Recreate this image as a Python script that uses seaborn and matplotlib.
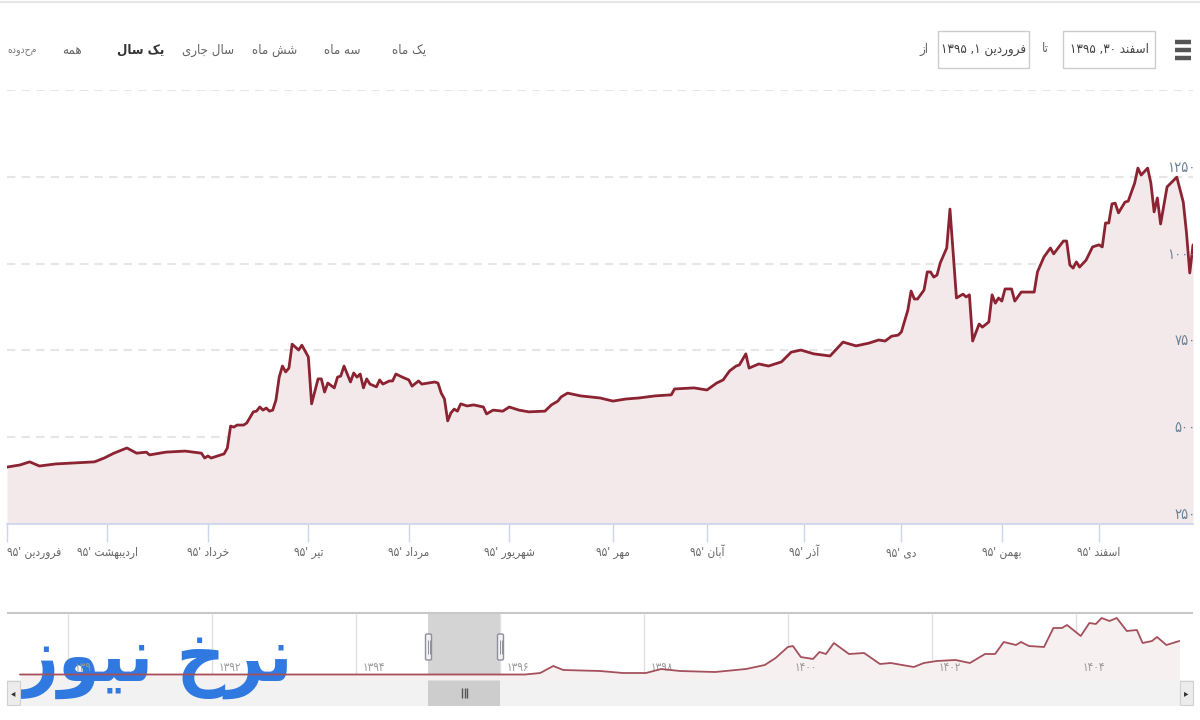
import re
import matplotlib
matplotlib.use('Agg')
import matplotlib.pyplot as plt
from matplotlib.patches import FancyBboxPatch, Rectangle
import pandas as pd
import seaborn as sns

# matplotlib does not shape arabic script, so map letters to presentation forms
FORMS = {
    'ا': '\uFE8D\uFE8E', 'آ': '\uFE81\uFE82', 'د': '\uFEA9\uFEAA', 'ذ': '\uFEAB\uFEAC',
    'ر': '\uFEAD\uFEAE', 'ز': '\uFEAF\uFEB0', 'و': '\uFEED\uFEEE',
    'ب': '\uFE8F\uFE90\uFE91\uFE92', 'پ': '\uFB56\uFB57\uFB58\uFB59',
    'ت': '\uFE95\uFE96\uFE97\uFE98', 'ج': '\uFE9D\uFE9E\uFE9F\uFEA0',
    'خ': '\uFEA5\uFEA6\uFEA7\uFEA8', 'س': '\uFEB1\uFEB2\uFEB3\uFEB4',
    'ش': '\uFEB5\uFEB6\uFEB7\uFEB8', 'ف': '\uFED1\uFED2\uFED3\uFED4',
    'ک': '\uFB8E\uFB8F\uFB90\uFB91', 'ل': '\uFEDD\uFEDE\uFEDF\uFEE0',
    'م': '\uFEE1\uFEE2\uFEE3\uFEE4', 'ن': '\uFEE5\uFEE6\uFEE7\uFEE8',
    'ه': '\uFEE9\uFEEA\uFEEB\uFEEC', 'ی': '\uFBFC\uFBFD\uFBFE\uFBFF',
}


def fa(text):
    shaped = []
    for i, c in enumerate(text):
        if c not in FORMS:
            shaped.append(c)
            continue
        forms = FORMS[c]
        prev_c = text[i - 1] if i > 0 else ''
        next_c = text[i + 1] if i + 1 < len(text) else ''
        joins_prev = prev_c in FORMS and len(FORMS[prev_c]) == 4
        joins_next = next_c in FORMS and len(forms) == 4
        if joins_prev and joins_next:
            shaped.append(forms[3])
        elif joins_prev:
            shaped.append(forms[1])
        elif joins_next:
            shaped.append(forms[2])
        else:
            shaped.append(forms[0])
    tokens = re.findall(r'[۰-۹]+|.', ''.join(shaped))
    return ''.join(reversed(tokens))


# main chart, days since the start of 1395
days = [0, 4, 7, 10, 15, 21, 27, 30, 33, 37, 40, 43, 44, 49, 55, 60, 61, 62, 63, 65, 67, 68, 69, 70, 71, 73, 74,
        76, 77, 78, 79, 80, 81, 82, 83, 84, 85, 86, 87, 88, 90, 91, 93, 94, 96, 97, 98, 99, 101, 102, 103, 104,
        106, 107, 108, 109, 110, 111, 112, 114, 115, 116, 118, 119, 120, 122, 124, 125, 127, 128, 132, 133, 134,
        135, 136, 137, 138, 139, 140, 142, 144, 147, 148, 150, 153, 155, 158, 161, 166, 168, 170, 171, 173, 177,
        183, 187, 191, 195, 200, 205, 206, 212, 216, 219, 221, 223, 225, 226, 228, 229, 232, 235, 239, 242, 245,
        249, 254, 258, 262, 266, 269, 271, 273, 275, 276, 278, 279, 280, 281, 283, 284, 285, 286, 287, 288, 290,
        291, 293, 295, 296, 297, 298, 300, 301, 303, 304, 305, 306, 307, 308, 310, 311, 313, 317, 318, 320, 322,
        323, 326, 327, 328, 329, 330, 331, 333, 335, 337, 338, 339, 340, 341, 342, 343, 345, 346, 348, 349, 350,
        352, 353, 354, 355, 356, 358, 361, 363, 364, 365, 366]
prices = [414, 420, 429, 417, 423, 426, 429, 440, 454, 469, 454, 457, 449, 457, 460, 454, 440, 446, 440, 446, 452,
          469, 532, 529, 535, 535, 541, 573, 575, 587, 578, 584, 575, 578, 607, 673, 705, 688, 699, 768, 751, 765,
          731, 596, 668, 668, 630, 656, 642, 673, 676, 705, 659, 685, 673, 682, 642, 668, 653, 645, 665, 653, 662,
          662, 682, 673, 665, 647, 662, 653, 659, 656, 627, 610, 547, 570, 581, 575, 596, 590, 593, 587, 567, 578,
          575, 587, 578, 573, 575, 593, 604, 616, 627, 619, 613, 604, 610, 613, 619, 622, 639, 642, 636, 656, 665,
          691, 705, 708, 740, 699, 711, 705, 717, 745, 751, 740, 734, 774, 763, 771, 780, 777, 791, 794, 803, 866,
          921, 898, 898, 924, 976, 976, 961, 967, 1002, 1045, 1157, 901, 912, 904, 910, 777, 826, 817, 832, 910,
          886, 901, 892, 927, 927, 892, 918, 918, 976, 1019, 1045, 1028, 1065, 1065, 996, 987, 1005, 990, 1010,
          1048, 1054, 1048, 1117, 1117, 1172, 1174, 1146, 1177, 1180, 1232, 1275, 1255, 1275, 1232, 1149, 1189,
          1114, 1221, 1249, 1177, 1088, 973, 1054]
month_days = [0, 31, 62, 93, 124, 155, 187, 216, 246, 276, 307, 337]
month_names = ['فروردین', 'اردیبهشت', 'خرداد', 'تیر', 'مرداد', 'شهریور', 'مهر', 'آبان', 'آذر', 'دی', 'بهمن', 'اسفند']
price_ticks = [250, 500, 750, 1000, 1250, 1500]
price_labels = ['۲۵۰', '۵۰۰', '۷۵۰', '۱۰۰۰', '۱۲۵۰']

# navigator, whole history by year
nav_years = [1389.33, 1396.35, 1396.56, 1396.74, 1396.88, 1397.39, 1397.71, 1398.03, 1398.24, 1398.5, 1398.99,
             1399.42, 1399.68, 1399.83, 1400.0, 1400.07, 1400.18, 1400.35, 1400.44, 1400.53, 1400.64, 1400.85,
             1401.06, 1401.28, 1401.43, 1401.75, 1401.89, 1402.07, 1402.33, 1402.53, 1402.74, 1402.88, 1403.0,
             1403.17, 1403.24, 1403.35, 1403.56, 1403.69, 1403.81, 1403.88, 1404.07, 1404.19, 1404.28, 1404.36,
             1404.47, 1404.57, 1404.71, 1404.85, 1404.93, 1405.06, 1405.13, 1405.26, 1405.44]
nav_values = [770, 770, 980, 1960, 1400, 1260, 980, 980, 1540, 1260, 1120, 1540, 2100, 3080, 4620, 4760, 3220,
              2940, 3920, 3640, 5180, 3640, 3780, 2240, 2380, 1820, 2380, 2660, 2800, 2380, 3640, 3640, 5320,
              4900, 5320, 4760, 4620, 7280, 7280, 7700, 6160, 7980, 7840, 8680, 8260, 8680, 6860, 7000, 5180,
              5460, 6020, 4900, 5460]
nav_ticks = [1390, 1392, 1394, 1396, 1398, 1400, 1402, 1404]
nav_labels = ['۱۳۹۰', '۱۳۹۲', '۱۳۹۴', '۱۳۹۶', '۱۳۹۸', '۱۴۰۰', '۱۴۰۲', '۱۴۰۴']
range_start, range_end = 1395, 1396

buttons = ['یک ماه', 'سه ماه', 'شش ماه', 'سال جاری', 'یک سال', 'همه']
button_x = [409, 342, 275, 208, 141, 72]

LINE = '#8b2332'
AREA = '#f3e9ea'
GREY = '#666666'

sns.set_theme(style='white')
plt.rcParams['font.family'] = ['DejaVu Sans']
plt.rcParams['font.stretch'] = 'condensed'

W, H = 1200, 720
fig = plt.figure(figsize=(W / 100, H / 100), dpi=100, facecolor='white')


def fx(x):
    return x / W


def fy(y):
    return 1 - y / H


# main chart
ax = fig.add_axes([fx(7), fy(524), 1186 / W, 434 / H])
df = pd.DataFrame({'day': days, 'price': prices})
ax.fill_between(df['day'], df['price'], 250, color=AREA, lw=0, zorder=1)
sns.lineplot(data=df, x='day', y='price', color=LINE, lw=2, ax=ax, zorder=3)
ax.set_xlim(0, 366)
ax.set_ylim(250, 1500)
ax.set_xlabel('')
ax.set_ylabel('')
for s in ['top', 'left', 'right']:
    ax.spines[s].set_visible(False)
ax.spines['bottom'].set_color('#ccd6eb')
ax.set_yticks(price_ticks)
ax.set_yticklabels([])
ax.tick_params(axis='y', length=0)
ax.grid(True, axis='y', color='#e6e6e6', lw=1.5, ls=(0, (4, 3)), zorder=2)
ax.grid(False, axis='x')
ax.set_xticks(month_days)
ax.set_xticklabels([fa(m + " '۹۵") for m in month_names], fontsize=8.5, color=GREY, va='baseline')
ax.tick_params(axis='x', length=13, width=1, color='#ccd6eb', pad=10, bottom=True)
ax.get_xticklabels()[0].set_ha('left')
for v, lab in zip(price_ticks, price_labels):
    ax.annotate(fa(lab), (1, v), xycoords=ax.get_yaxis_transform(), xytext=(2, 1.5), textcoords='offset points',
                ha='right', va='bottom', fontsize=10.5, color='#6b8296', zorder=5, annotation_clip=False)

# navigator, scrollbar included
nav = fig.add_axes([fx(7), fy(706), 1186 / W, 92 / H])
nav.set_xlim(1389.15, 1405.63)
nav.set_ylim(-3640, 9240)
nav.axis('off')
nav_df = pd.DataFrame({'year': nav_years, 'value': nav_values})
scroll_frac = 26 / 92
nav.axhspan(-3640, 0, color='#f2f2f2', lw=0, zorder=0)
nav.axvspan(range_start, range_end, ymin=scroll_frac, color='#d4d4d4', lw=0, zorder=0.5)
nav.axvspan(range_start, range_end, ymax=scroll_frac, color='#cdcdcd', lw=0, zorder=0.5)
nav.vlines(nav_ticks, 0, 9240, color='#e0e0e0', lw=1, zorder=0.6)
nav.fill_between(nav_df['year'], nav_df['value'], 0, color='#f6f0f0', lw=0, zorder=0.7)
nav.text(1389.33, 2500, fa('نرخ نیوز'), fontsize=54, fontweight='bold', color='#2f79e0', ha='left', va='center',
         zorder=1, clip_on=False)
sns.lineplot(data=nav_df, x='year', y='value', color='#a5505c', lw=1.3, ax=nav, zorder=3)
nav.axis('off')
for yr, lab in zip(nav_ticks, nav_labels):
    nav.annotate(fa(lab), (yr, 1800), xytext=(5, 0), textcoords='offset points', fontsize=8.5, color='#999999',
                 ha='left', va='center', zorder=2)

# frame and controls are drawn on the figure in pixel units
px = fig.add_axes([0, 0, 1, 1], zorder=6, facecolor='none')
px.set_xlim(0, W)
px.set_ylim(H, 0)
px.axis('off')
px.hlines(2, 0, W, color='#e6e6e6', lw=1.5)
px.hlines(613, 7, 1193, color='#c8c8c8', lw=1.5)
for hx in [428.5, 500.5]:
    px.add_patch(FancyBboxPatch((hx - 3, 634), 6, 26, boxstyle='round,pad=0,rounding_size=1.5', fc='#f2f2f2',
                                ec='#8f8f9f', lw=1))
    px.vlines([hx - 1, hx + 1], 640, 654, color='#8f8f9f', lw=0.7)
px.vlines([462, 464.5, 467], 688, 698, color='#555555', lw=1)
for bx, mark in [(7, '◂'), (1180, '▸')]:
    px.add_patch(Rectangle((bx, 681), 13, 24, fc='#ececec', ec='#d0d0d0', lw=0.8))
    px.text(bx + 6.5, 693, mark, ha='center', va='center', fontsize=7, color='#333333')

for name, bx in zip(buttons, button_x):
    bold = name == 'یک سال'
    px.text(bx, 50, fa(name), ha='center', va='center', fontsize=9.5, color='#333333' if bold else GREY,
            fontweight='bold' if bold else 'normal')
px.text(22, 51, fa('محدوده'), ha='center', va='center', fontsize=7.5, color='#777777')
px.text(924, 49, fa('از'), ha='center', va='center', fontsize=9.5, color=GREY)
px.text(1045, 49, fa('تا'), ha='center', va='center', fontsize=9.5, color=GREY)
for x0, x1, label in [(938, 1029, 'فروردین ۱, ۱۳۹۵'), (1063, 1155, 'اسفند ۳۰, ۱۳۹۵')]:
    px.add_patch(Rectangle((x0, 31), x1 - x0, 37, fc='white', ec='#cccccc', lw=1))
    px.text((x0 + x1) / 2, 49, fa(label), ha='center', va='center', fontsize=9.5, color='#444444')
for by in [42, 50, 58]:
    px.hlines(by, 1175, 1191, color='#555555', lw=3.2)

fig.savefig('out.png', dpi=100)
